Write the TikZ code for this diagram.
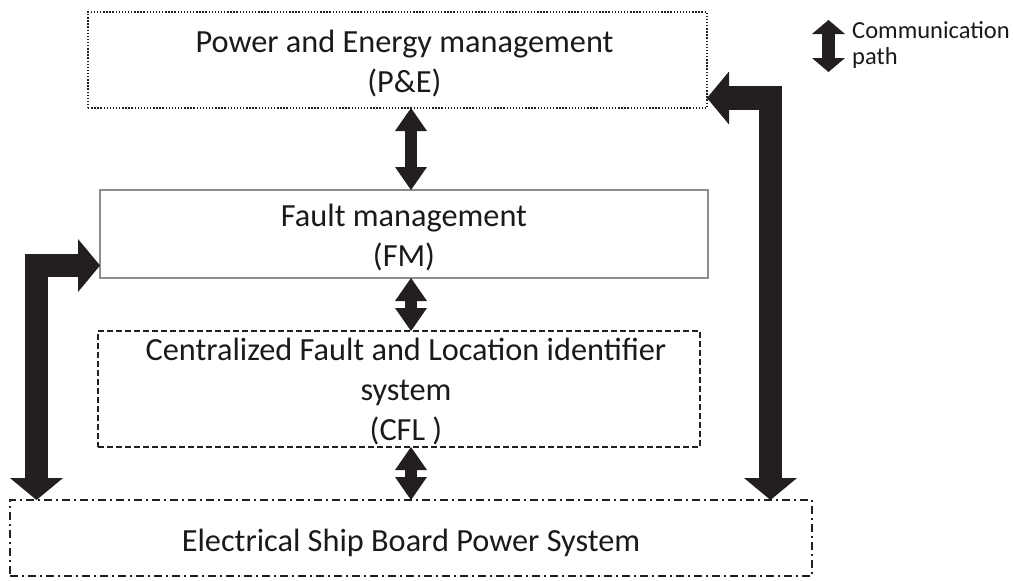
\documentclass[tikz,border=0pt]{standalone}
\usepackage{fontspec}
\setmainfont{Carlito}
\usetikzlibrary{arrows.meta}
\definecolor{ink}{HTML}{231F20}
\definecolor{txt}{HTML}{1A1A1A}
\definecolor{framegray}{HTML}{8C8C8C}
\begin{document}
\begin{tikzpicture}[x=1pt,y=-1pt,
  box/.style={minimum width=#1, inner sep=0pt, outer sep=0pt},
  label/.style={text=txt, align=center, inner sep=0pt, anchor=base,
    font=\fontsize{32.3}{40}\selectfont},
  pebox/.style={draw=ink, line width=1.3pt, dash pattern=on 1.4pt off 1.7pt},
  fmbox/.style={draw=framegray, line width=1.2pt},
  cflbox/.style={draw=ink, line width=2pt, dash pattern=on 6pt off 3pt},
  esbbox/.style={draw=ink, line width=2.2pt, dash pattern=on 8pt off 4pt on 2pt off 4pt},
  midarrow/.style={draw=ink, line width=12pt,
    {Triangle[width=32pt,length=23pt,line width=0pt]}-{Triangle[width=32pt,length=23pt,line width=0pt]}},
  keyarrow/.style={draw=ink, line width=13pt,
    {Triangle[width=33pt,length=14pt,line width=0pt]}-{Triangle[width=33pt,length=14pt,line width=0pt]}},
  bigarrow/.style={draw=ink, line width=23.5pt, line join=miter,
    {Triangle[width=53pt,length=22pt,line width=0pt]}-{Triangle[width=53pt,length=22pt,line width=0pt]}},
]
\useasboundingbox (0,0) rectangle (1013,581);

% the four layers
\node[box=619pt, minimum height=96pt, pebox]  (pe)  at (397.5,60) {};
\node[box=608pt, minimum height=88pt, fmbox]  (fm)  at (404,234)  {};
\node[box=602pt, minimum height=116pt, cflbox] (cfl) at (399,389) {};
\node[box=802pt, minimum height=76pt, esbbox] (esb) at (411,538) {};

% layer titles, placed by the baseline of their last line
\node[label] (pet)  at (404.5,92) {Power and Energy management\\(P\&E)};
\node[label] (fmt)  at (404,266)  {Fault management\\(FM)};
\node[label] (cflt) at (406,440)  {Centralized Fault and Location identifier\\system\\(CFL )};
\node[label] (esbt) at (411,551)  {Electrical Ship Board Power System};

% anchor lines for the connectors
\coordinate (mx) at (411,0);
\coordinate (lx) at (36.5,0);
\coordinate (ly) at (0,265.5);
\coordinate (rx) at (770.5,0);
\coordinate (ry) at (0,98);

% communication paths between neighbouring layers
\draw[midarrow] (pe.south -| mx) -- (fm.north -| mx);
\draw[midarrow] (fm.south -| mx) -- (cfl.north -| mx);
\draw[midarrow] (cfl.south -| mx) -- (esb.north -| mx);

% direct paths from the power system to FM and P&E
\draw[bigarrow] (esb.north -| lx) |- (fm.west |- ly);
\draw[bigarrow] (pe.east |- ry) -| (esb.north -| rx);

% legend
\coordinate (k1) at (828.5,20);
\coordinate (k2) at (828.5,72);
\draw[keyarrow] (k1) -- (k2);
\node[text=txt, align=left, anchor=west, inner sep=0pt,
  font=\fontsize{24.5}{26}\selectfont] (keyt) at (852,45) {Communication\\path};
\end{tikzpicture}
\end{document}
